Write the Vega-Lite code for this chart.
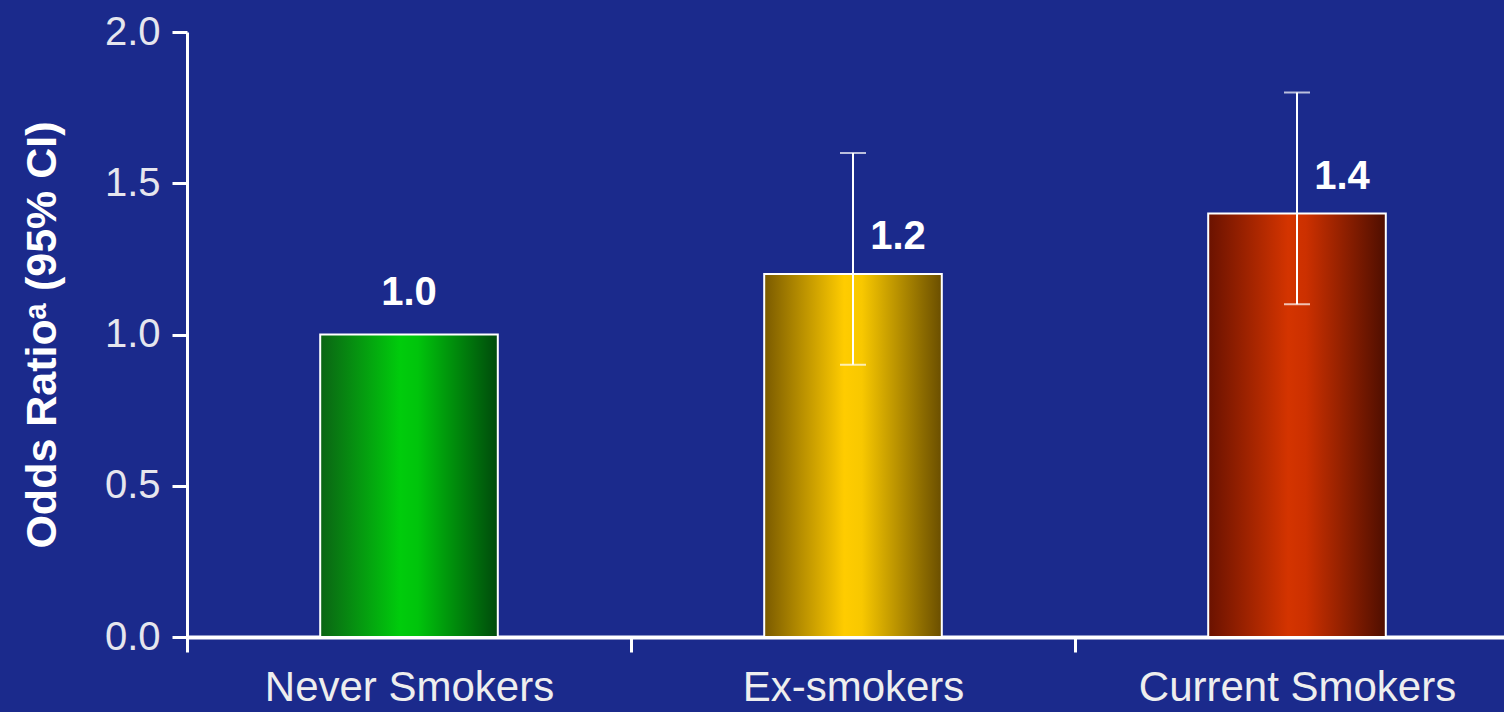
{
  "$schema": "https://vega.github.io/schema/vega-lite/v6.json",
  "autosize": "none",
  "width": 1332,
  "height": 605,
  "padding": {"left": 187, "top": 32, "right": 0, "bottom": 75},
  "background": "#1b2a8c",
  "config": {
    "view": {"stroke": null},
    "font": "Liberation Sans",
    "axis": {"grid": false}
  },
  "data": {
    "values": [
      {"group": "Never Smokers", "or": 1.0, "lo": null, "hi": null},
      {"group": "Ex-smokers", "or": 1.2, "lo": 0.9, "hi": 1.6},
      {"group": "Current Smokers", "or": 1.4, "lo": 1.1, "hi": 1.8}
    ]
  },
  "encoding": {
    "x": {
      "field": "group",
      "type": "nominal",
      "sort": ["Never Smokers", "Ex-smokers", "Current Smokers"],
      "scale": {"paddingInner": 0, "paddingOuter": 0},
      "axis": {
        "title": null,
        "labelAngle": 0,
        "labelLimit": 0,
        "tickBand": "extent",
        "tickSize": 15,
        "tickWidth": 3,
        "tickColor": "white",
        "domainColor": "white",
        "domainWidth": 4,
        "labelFontSize": 42,
        "labelColor": "#eeeeee",
        "labelPadding": 15
      }
    }
  },
  "layer": [
    {
      "transform": [{"filter": "datum.group === 'Never Smokers'"}],
      "mark": {
        "type": "bar",
        "width": {"band": 0.4},
        "stroke": "white",
        "strokeWidth": 2,
        "fill": {
          "gradient": "linear", "x1": 0, "y1": 0, "x2": 1, "y2": 0,
          "stops": [
            {"offset": 0, "color": "#0b6414"},
            {"offset": 0.45, "color": "#00cc0c"},
            {"offset": 0.55, "color": "#00c40c"},
            {"offset": 1, "color": "#004a0c"}
          ]
        }
      },
      "encoding": {"y": {"field": "or", "type": "quantitative"}}
    },
    {
      "transform": [{"filter": "datum.group === 'Ex-smokers'"}],
      "mark": {
        "type": "bar",
        "width": {"band": 0.4},
        "stroke": "white",
        "strokeWidth": 2,
        "fill": {
          "gradient": "linear", "x1": 0, "y1": 0, "x2": 1, "y2": 0,
          "stops": [
            {"offset": 0, "color": "#7a5a00"},
            {"offset": 0.45, "color": "#ffcc00"},
            {"offset": 0.55, "color": "#f8c800"},
            {"offset": 1, "color": "#6a4e00"}
          ]
        }
      },
      "encoding": {"y": {"field": "or", "type": "quantitative"}}
    },
    {
      "transform": [{"filter": "datum.group === 'Current Smokers'"}],
      "mark": {
        "type": "bar",
        "width": {"band": 0.4},
        "stroke": "white",
        "strokeWidth": 2,
        "fill": {
          "gradient": "linear", "x1": 0, "y1": 0, "x2": 1, "y2": 0,
          "stops": [
            {"offset": 0, "color": "#6a1200"},
            {"offset": 0.45, "color": "#d43400"},
            {"offset": 0.55, "color": "#cc3000"},
            {"offset": 1, "color": "#4e0e00"}
          ]
        }
      },
      "encoding": {
        "y": {
          "field": "or",
          "type": "quantitative",
          "scale": {"domain": [0, 2], "nice": false},
          "axis": {
            "values": [0, 0.5, 1, 1.5, 2],
            "format": ".1f",
            "title": "Odds Ratioᵃ (95% CI)",
            "titleFontSize": 43,
            "titleFontWeight": "bold",
            "titleColor": "white",
            "titlePadding": 40,
            "tickSize": 15,
            "tickWidth": 3,
            "tickColor": "white",
            "domainColor": "white",
            "domainWidth": 3,
            "labelFontSize": 40,
            "labelColor": "#e6e6ee",
            "labelPadding": 12
          }
        }
      }
    },
    {
      "transform": [{"filter": "isValid(datum.lo)"}],
      "mark": {"type": "rule", "color": "white", "strokeWidth": 2},
      "encoding": {
        "y": {"field": "lo", "type": "quantitative"},
        "y2": {"field": "hi"}
      }
    },
    {
      "transform": [{"filter": "isValid(datum.hi)"}],
      "mark": {"type": "tick", "color": "white", "size": 26, "thickness": 2},
      "encoding": {"y": {"field": "hi", "type": "quantitative"}}
    },
    {
      "transform": [{"filter": "isValid(datum.lo)"}],
      "mark": {"type": "tick", "color": "white", "size": 26, "thickness": 2},
      "encoding": {"y": {"field": "lo", "type": "quantitative"}}
    },
    {
      "transform": [{"filter": "datum.group === 'Never Smokers'"}],
      "mark": {"type": "text", "color": "white", "fontSize": 40, "fontWeight": "bold", "baseline": "alphabetic", "dy": -30},
      "encoding": {
        "y": {"field": "or", "type": "quantitative"},
        "text": {"field": "or", "type": "quantitative", "format": ".1f"}
      }
    },
    {
      "transform": [{"filter": "datum.group !== 'Never Smokers'"}],
      "mark": {"type": "text", "color": "white", "fontSize": 40, "fontWeight": "bold", "baseline": "alphabetic", "dx": 45, "dy": -25},
      "encoding": {
        "y": {"field": "or", "type": "quantitative"},
        "text": {"field": "or", "type": "quantitative", "format": ".1f"}
      }
    }
  ]
}
